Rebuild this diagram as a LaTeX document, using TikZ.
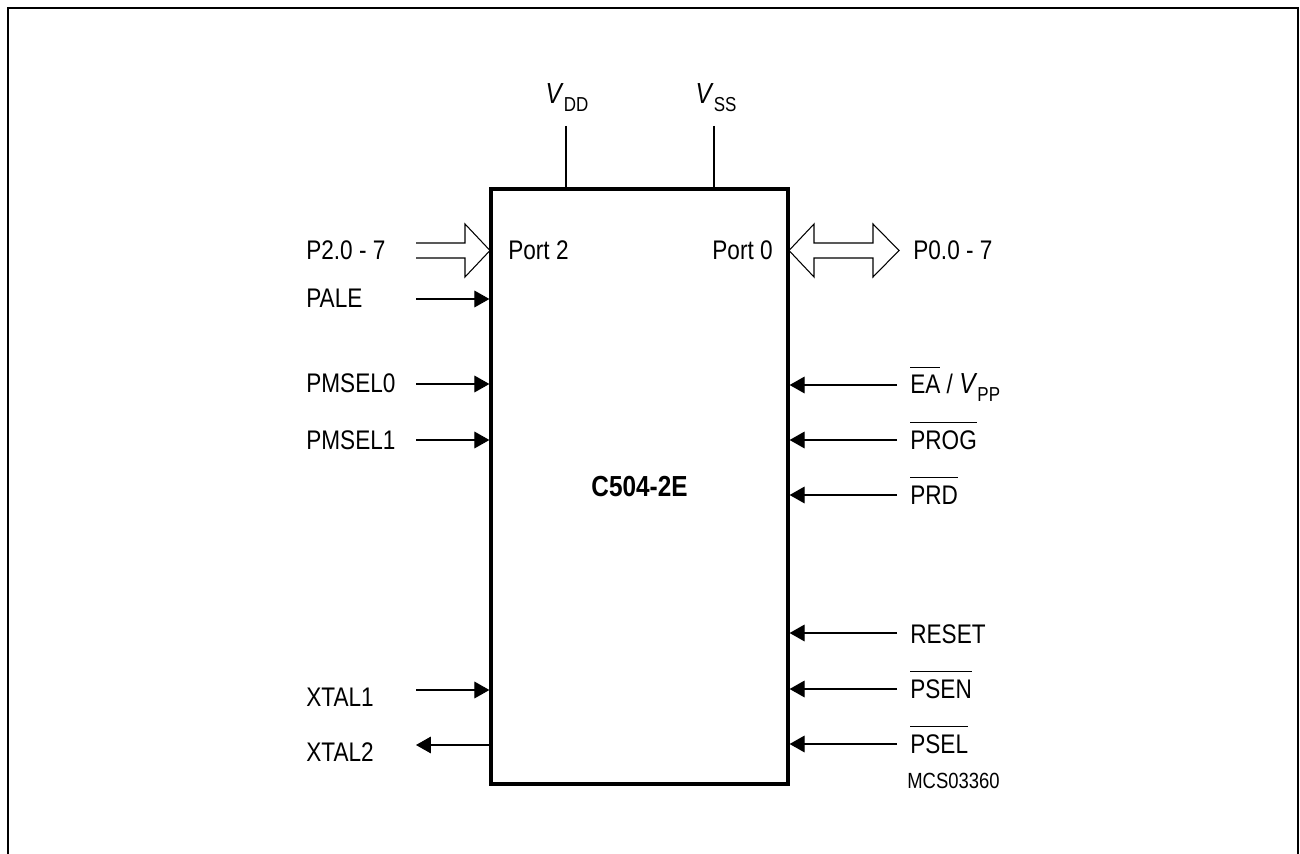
\documentclass[tikz,border=0pt]{standalone}
\usepackage{fontspec}
\setmainfont{Liberation Sans}[FakeStretch=0.84]
\usetikzlibrary{arrows.meta}
\newcommand{\nbar}[1]{$\overline{\mbox{#1}\rule{0pt}{14pt}}$}
\newcommand{\vsub}[1]{{\fontsize{16.5}{19}\selectfont\textit{V}}\raisebox{-4.5pt}{\fontsize{11.5}{13}\selectfont #1}}
\begin{document}
\begin{tikzpicture}[x=0.02cm, y=-0.02cm, >={Triangle[length=8.5pt,width=9.5pt]},
    font=\fontsize{15.3}{18}\selectfont,
    wire/.style={line width=0.6pt},
    bus/.style={line width=0.6pt},
    lbl/.style={anchor=base west, inner sep=0pt},
    chip/.style={draw, line width=1.9pt, minimum width=5.94cm, minimum height=11.9cm,
      font=\fontsize{16.5}{19}\selectfont\bfseries}]
    \useasboundingbox (0,0) rectangle (1300,854);
    \draw[line width=1.1pt] (8,854) -- (8,8) -- (1298,8) -- (1298,854);

    \node[chip] (ic) at (639.5,486.5) {C504-2E};
    \node[lbl] (port2) at (508,260) {Port 2};
    \node[lbl, anchor=base east] (port0) at (773,260) {Port 0};

    % supply
    \node[lbl, anchor=base] (vdd) at (567,104) {\vsub{DD}};
    \node[lbl, anchor=base] (vss) at (716,104) {\vsub{SS}};
    \coordinate (vdd-pin) at (566,126);
    \coordinate (vss-pin) at (714,126);
    \draw[wire] (vdd-pin) -- (vdd-pin |- ic.north);
    \draw[wire] (vss-pin) -- (vss-pin |- ic.north);

    % left side
    \node[lbl] (p2) at (306,260) {P2.0 - 7};
    \node[lbl] (pale) at (306,308) {PALE};
    \node[lbl] (pmsel0) at (306,393) {PMSEL0};
    \node[lbl] (pmsel1) at (306,449) {PMSEL1};
    \node[lbl] (xtal1) at (306,706) {XTAL1};
    \node[lbl] (xtal2) at (306,761) {XTAL2};
    \draw[bus] (416,243) -- (465,243) -- (465,224) -- (490,250.5) -- (465,277) -- (465,258) -- (416,258);
    \coordinate (pale-in) at (416,299);
    \coordinate (pmsel0-in) at (416,384);
    \coordinate (pmsel1-in) at (416,440);
    \coordinate (xtal1-in) at (416,690);
    \coordinate (xtal2-out) at (416,745);
    \draw[wire,->] (pale-in) -- (pale-in -| ic.west);
    \draw[wire,->] (pmsel0-in) -- (pmsel0-in -| ic.west);
    \draw[wire,->] (pmsel1-in) -- (pmsel1-in -| ic.west);
    \draw[wire,->] (xtal1-in) -- (xtal1-in -| ic.west);
    \draw[wire,->] (xtal2-out -| ic.west) -- (xtal2-out);

    % right side
    \node[lbl] (p0) at (913,260) {P0.0 - 7};
    \node[lbl] (ea) at (910,394) {\nbar{EA} / \vsub{PP}};
    \node[lbl] (prog) at (910,449) {\nbar{PROG}};
    \node[lbl] (prd) at (910,504) {\nbar{PRD}};
    \node[lbl] (reset) at (910,643) {RESET};
    \node[lbl] (psen) at (910,698) {\nbar{PSEN}};
    \node[lbl] (psel) at (910,753) {\nbar{PSEL}};
    \node[lbl, font=\fontsize{12.5}{14}\selectfont] (code) at (907,788) {MCS03360};
    \draw[bus] (789,250.5) -- (814,224) -- (814,243) -- (873,243) -- (873,224) -- (899,250.5)
      -- (873,277) -- (873,258) -- (814,258) -- (814,277) -- cycle;
    \coordinate (ea-in) at (897,385);
    \coordinate (prog-in) at (897,440);
    \coordinate (prd-in) at (897,495);
    \coordinate (reset-in) at (897,633);
    \coordinate (psen-in) at (897,689);
    \coordinate (psel-in) at (897,744);
    \draw[wire,->] (ea-in) -- (ea-in -| ic.east);
    \draw[wire,->] (prog-in) -- (prog-in -| ic.east);
    \draw[wire,->] (prd-in) -- (prd-in -| ic.east);
    \draw[wire,->] (reset-in) -- (reset-in -| ic.east);
    \draw[wire,->] (psen-in) -- (psen-in -| ic.east);
    \draw[wire,->] (psel-in) -- (psel-in -| ic.east);
\end{tikzpicture}
\end{document}
